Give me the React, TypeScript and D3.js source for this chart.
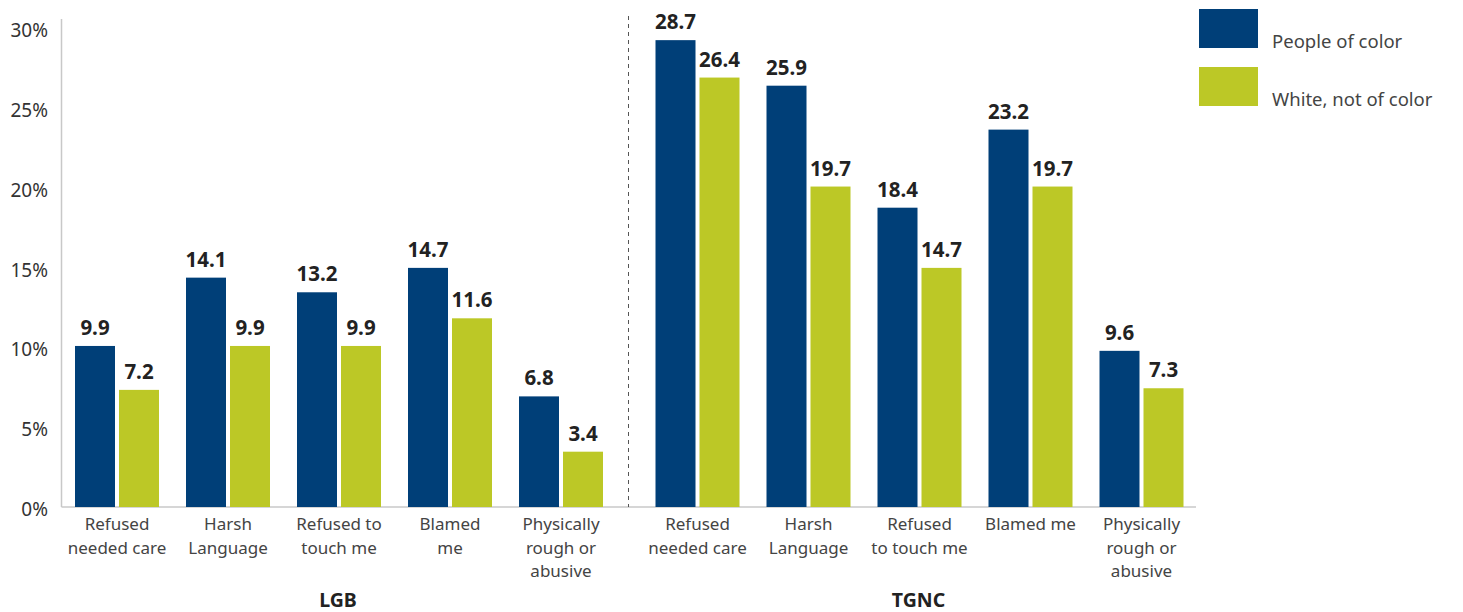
import React from "react";
import * as d3 from "d3";

// Share of respondents reporting each experience, by group and race
const categoriesLGB = ["Refused needed care", "Harsh Language", "Refused to touch me", "Blamed me", "Physically rough or abusive"];
const categoriesTGNC = ["Refused needed care", "Harsh Language", "Refused to touch me", "Blamed me", "Physically rough or abusive"];
const labelLinesLGB = [["Refused", "needed care"], ["Harsh", "Language"], ["Refused to", "touch me"], ["Blamed", "me"], ["Physically", "rough or", "abusive"]];
const labelLinesTGNC = [["Refused", "needed care"], ["Harsh", "Language"], ["Refused", "to touch me"], ["Blamed me"], ["Physically", "rough or", "abusive"]];
const pocLGB = [9.9, 14.1, 13.2, 14.7, 6.8];
const whiteLGB = [7.2, 9.9, 9.9, 11.6, 3.4];
const pocTGNC = [28.7, 25.9, 18.4, 23.2, 9.6];
const whiteTGNC = [26.4, 19.7, 14.7, 19.7, 7.3];
const yTicks = [0, 5, 10, 15, 20, 25, 30];
const seriesNames = ["People of color", "White, not of color"];
const groupNames = ["LGB", "TGNC"];

const W = 1463;
const H = 612;
const NAVY = "#003F78";
const GREEN = "#BCC826";
const FONT = "'Noto Sans', Lato, sans-serif";

const y = d3.scaleLinear().domain([0, 30]).range([507, 19]);
// tick labels sit slightly below their gridline positions
const yLabel = d3.scaleLinear().domain([0, 30]).range([516, 37]);

const xLGB = d3.scaleBand<string>().domain(categoriesLGB).range([61.5, 616.5]);
const xTGNC = d3.scaleBand<string>().domain(categoriesTGNC).range([642, 1197]);
const BAR_W = 40;
const GAP = 4;

type Group = {
  name: string;
  x: d3.ScaleBand<string>;
  cats: string[];
  lines: string[][];
  poc: number[];
  white: number[];
};

const groups: Group[] = [
  { name: groupNames[0], x: xLGB, cats: categoriesLGB, lines: labelLinesLGB, poc: pocLGB, white: whiteLGB },
  { name: groupNames[1], x: xTGNC, cats: categoriesTGNC, lines: labelLinesTGNC, poc: pocTGNC, white: whiteTGNC },
];

export default function App() {
  return (
    <svg
      width={W}
      height={H}
      style={{ position: "absolute", left: 0, top: 0, background: "#fff" }}
      fontFamily={FONT}
    >
      {/* y axis */}
      <line x1={61.5} x2={61.5} y1={y(30)} y2={y(0)} stroke="#c8c8c8" strokeWidth={1.5} />
      {yTicks.map((t) => (
        <text key={t} x={48} y={yLabel(t)} textAnchor="end" fontSize={19} fill="#333">
          {t}%
        </text>
      ))}
      {/* baseline */}
      <line x1={61.5} x2={1196} y1={y(0)} y2={y(0)} stroke="#c8c8c8" strokeWidth={1.5} />
      {/* separator between groups */}
      <line
        x1={628.5}
        x2={628.5}
        y1={16}
        y2={y(0)}
        stroke="#555"
        strokeWidth={1}
        strokeDasharray="4,4"
      />

      {groups.map((g) => {
        const [r0, r1] = g.x.range();
        return (
          <g key={g.name}>
            {g.cats.map((c, i) => {
              const cx = (g.x(c) as number) + g.x.bandwidth() / 2;
              const x1 = cx - GAP / 2 - BAR_W;
              const x2 = cx + GAP / 2;
              return (
                <g key={c}>
                  <rect x={x1} y={y(g.poc[i])} width={BAR_W} height={y(0) - y(g.poc[i])} fill={NAVY} />
                  <rect x={x2} y={y(g.white[i])} width={BAR_W} height={y(0) - y(g.white[i])} fill={GREEN} />
                  <text
                    x={x1 + BAR_W / 2}
                    y={y(g.poc[i]) - 11}
                    textAnchor="middle"
                    fontSize={20.5}
                    fontWeight={700}
                    fill="#222"
                  >
                    {g.poc[i].toFixed(1)}
                  </text>
                  <text
                    x={x2 + BAR_W / 2}
                    y={y(g.white[i]) - 11}
                    textAnchor="middle"
                    fontSize={20.5}
                    fontWeight={700}
                    fill="#222"
                  >
                    {g.white[i].toFixed(1)}
                  </text>
                  {g.lines[i].map((ln, k) => (
                    <text
                      key={k}
                      x={cx}
                      y={530 + k * 23.5}
                      textAnchor="middle"
                      fontSize={17}
                      fill="#444"
                    >
                      {ln}
                    </text>
                  ))}
                </g>
              );
            })}
            <text
              x={(r0 + r1) / 2 - 1}
              y={607}
              textAnchor="middle"
              fontSize={19.5}
              fontWeight={700}
              fill="#222"
            >
              {g.name}
            </text>
          </g>
        );
      })}

      {/* legend */}
      {seriesNames.map((s, i) => (
        <g key={s} transform={`translate(1199, ${9 + i * 58})`}>
          <rect x={0} y={0} width={59} height={39} fill={i === 0 ? NAVY : GREEN} />
          <text x={73} y={39} fontSize={18.5} fill="#444">
            {s}
          </text>
        </g>
      ))}
    </svg>
  );
}
